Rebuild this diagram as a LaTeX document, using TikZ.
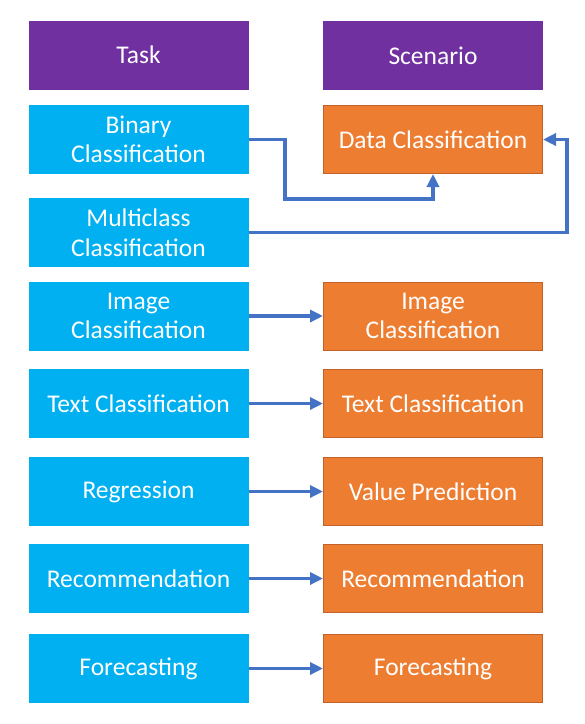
\documentclass[tikz,border=0pt]{standalone}
\usepackage{fontspec}
\setmainfont{Carlito}
\usetikzlibrary{arrows.meta}
\definecolor{hdr}{HTML}{7030A0}
\definecolor{task}{HTML}{00B0F0}
\definecolor{scen}{HTML}{ED7D31}
\definecolor{scenb}{HTML}{C0622A}
\definecolor{conn}{HTML}{4472C4}
\begin{document}
\begin{tikzpicture}[x=1pt,y=-1pt,
  box/.style={minimum width=220pt,minimum height=69pt,inner sep=0pt,align=center,text=white,
    font=\fontsize{25.5}{29.5}\selectfont},
  hdrbox/.style={box,fill=hdr},
  taskbox/.style={box,fill=task},
  scenbox/.style={box,fill=scen,draw=scenb,line width=1pt,minimum width=219pt,minimum height=68pt},
  link/.style={draw=conn,line width=3.3pt,-{Triangle[length=13pt,width=12pt]}}
]
\useasboundingbox (0,0) rectangle (585,724);
\fill[white] (0,0) rectangle (585,724);
% headers
\node[hdrbox] (h1) at (138.5,55) {Task};
\node[hdrbox] (h2) at (433,55.5) {Scenario};
% tasks
\node[taskbox] (bin) at (138.5,139.5) {Binary\\Classification};
\node[taskbox] (mc) at (138.5,232.5) {Multiclass\\Classification};
\node[taskbox] (img) at (138.5,316) {Image\\Classification};
\node[taskbox] (txt) at (138.5,403.5) {Text Classification};
\node[taskbox] (reg) at (138.5,491.5) {Regression};
\node[taskbox] (rec) at (138.5,578.5) {Recommendation};
\node[taskbox] (fc) at (138.5,668.5) {Forecasting};
% scenarios
\node[scenbox] (data) at (433,139.5) {Data Classification};
\node[scenbox] (simg) at (433,316) {Image\\Classification};
\node[scenbox] (stxt) at (433,403.5) {Text Classification};
\node[scenbox] (sval) at (433,491.5) {Value Prediction};
\node[scenbox] (srec) at (433,578.5) {Recommendation};
\node[scenbox] (sfc) at (433,668.5) {Forecasting};
% connectors
\coordinate (k1) at (285,199);
\coordinate (k2) at (567,232.5);
\draw[link] (bin.east) -| (k1) -| (data.south);
\draw[link] (mc.east) -- (k2) |- (data.east);
\draw[link] (img.east) -- (simg.west);
\draw[link] (txt.east) -- (stxt.west);
\draw[link] (reg.east) -- (sval.west);
\draw[link] (rec.east) -- (srec.west);
\draw[link] (fc.east) -- (sfc.west);
\end{tikzpicture}
\end{document}
